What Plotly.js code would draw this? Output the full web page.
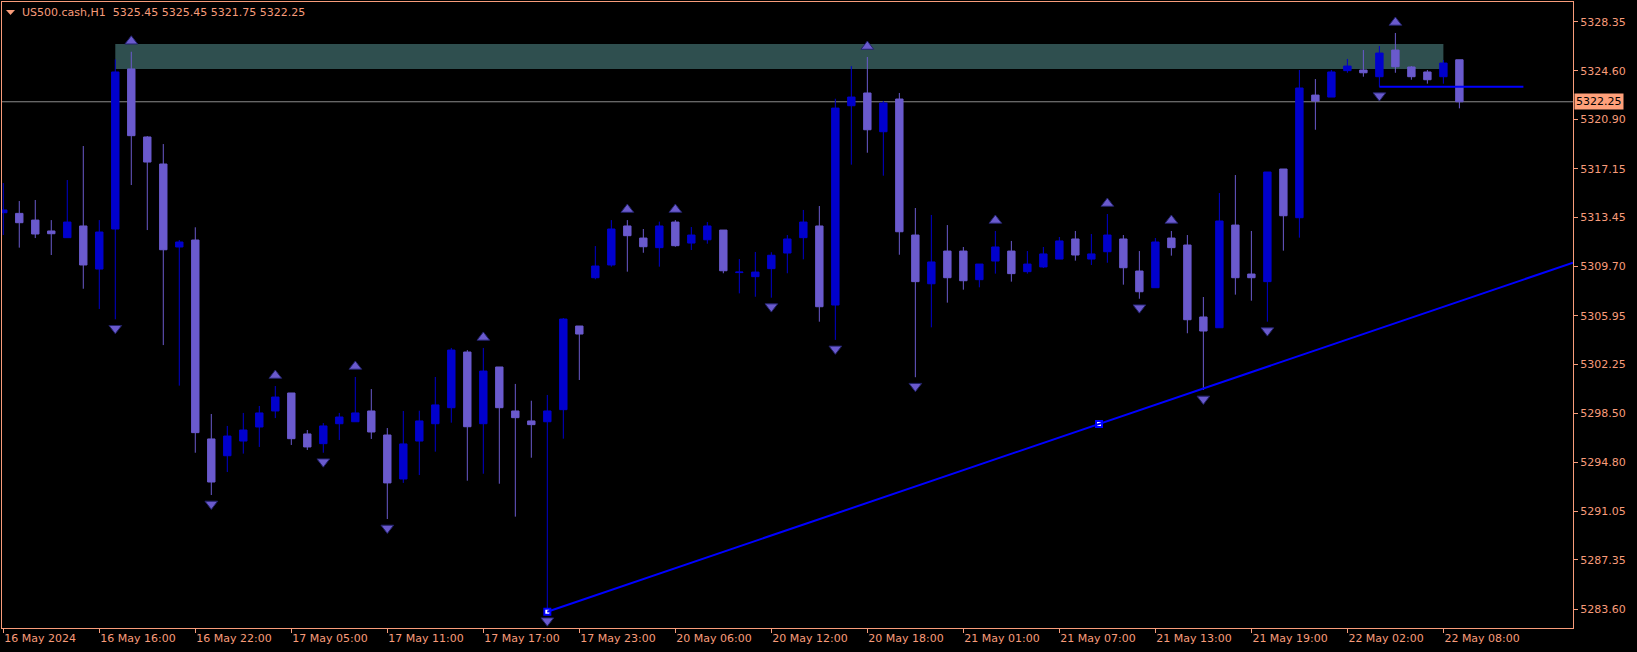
<!DOCTYPE html>
<html>
<head>
<meta charset="utf-8">
<script src="https://cdn.plot.ly/plotly-3.0.1.min.js"></script>
<style>
html,body{margin:0;padding:0;background:#000;}
#chart{width:1637px;height:652px;}
</style>
</head>
<body>
<div id="chart"></div>
<script>
// ---- data (US500.cash, H1) ----
const symbolTitle = 'US500.cash,H1\u00a0\u00a05325.45 5325.45 5321.75 5322.25';

const opens = [5313.80,5313.75,5313.24,5312.41,5311.90,5312.79,5309.51,5312.56,5324.75,5319.57,
5317.51,5311.19,5311.72,5296.57,5295.29,5296.41,5297.48,5298.70,5300.07,5296.95,
5296.21,5297.73,5297.88,5298.70,5296.87,5293.52,5296.41,5297.73,5298.95,5303.19,
5297.73,5302.05,5298.70,5297.94,5297.88,5298.80,5305.17,5308.85,5309.82,5312.79,
5311.87,5311.14,5313.09,5311.49,5311.74,5312.48,5309.24,5308.93,5309.54,5310.73,
5311.90,5312.79,5306.77,5321.95,5322.92,5319.97,5322.46,5312.10,5308.39,5310.88,
5310.88,5308.70,5310.12,5310.88,5309.31,5309.67,5310.27,5311.80,5310.27,5310.83,
5311.80,5309.36,5308.09,5311.87,5311.34,5305.86,5305.04,5312.86,5309.13,5308.55,
5317.13,5313.42,5322.76,5322.61,5324.62,5324.67,5324.16,5326.19,5324.90,5324.52,
5324.16,5325.45];

const highs = [5316.06,5314.69,5314.77,5313.24,5316.29,5318.88,5313.24,5325.48,5326.06,5319.64,
5319.03,5311.72,5312.69,5298.47,5297.56,5298.55,5299.08,5300.60,5300.07,5297.25,
5297.78,5298.55,5301.29,5300.37,5297.40,5298.70,5298.72,5301.29,5303.50,5303.34,
5303.50,5302.05,5300.76,5299.48,5299.92,5305.78,5305.17,5311.26,5313.24,5313.24,
5312.56,5313.12,5313.24,5312.71,5313.09,5312.48,5310.27,5310.81,5310.79,5312.10,
5314.01,5314.31,5322.48,5324.97,5325.66,5322.31,5322.92,5314.16,5313.63,5312.86,
5311.19,5309.89,5312.41,5311.65,5310.88,5311.19,5311.95,5312.41,5312.18,5313.70,
5312.10,5310.88,5311.87,5312.41,5312.10,5307.38,5315.30,5316.67,5312.41,5316.90,
5317.13,5324.67,5323.98,5324.67,5325.51,5326.19,5326.50,5327.49,5324.97,5324.67,
5325.43,5325.45];

const lows = [5312.10,5311.14,5311.87,5310.58,5311.90,5308.01,5306.47,5305.68,5315.91,5312.48,
5303.72,5300.63,5295.52,5292.30,5294.05,5295.45,5295.96,5298.16,5296.11,5295.73,
5295.52,5296.49,5297.88,5296.57,5290.47,5293.22,5293.82,5295.60,5297.81,5293.39,
5293.92,5293.16,5290.65,5295.14,5283.41,5296.59,5301.06,5308.73,5309.69,5309.31,
5310.75,5309.69,5311.21,5310.96,5311.44,5309.19,5307.66,5307.40,5307.33,5309.19,
5310.25,5305.50,5304.11,5317.46,5318.37,5316.62,5310.60,5301.27,5305.07,5306.95,
5307.94,5308.12,5309.16,5308.55,5309.16,5309.59,5310.27,5310.15,5309.82,5309.99,
5308.32,5307.25,5308.09,5310.53,5304.62,5300.30,5305.04,5307.56,5307.10,5305.50,
5310.91,5311.90,5320.12,5322.61,5324.46,5324.16,5323.40,5324.46,5323.93,5323.63,
5323.63,5321.75];

const closes = [5314.01,5313.04,5312.18,5312.20,5313.09,5309.82,5312.33,5324.52,5319.67,5317.66,
5310.98,5311.57,5297.05,5293.29,5296.79,5297.25,5298.55,5299.76,5296.59,5295.96,
5297.56,5298.24,5298.55,5297.10,5293.22,5296.19,5297.94,5299.16,5303.34,5297.50,
5301.74,5298.95,5298.19,5297.66,5298.70,5305.70,5304.56,5309.74,5312.56,5312.05,
5311.21,5312.79,5311.29,5312.10,5312.79,5309.38,5309.28,5309.28,5310.56,5311.80,
5313.09,5306.64,5321.77,5322.61,5320.12,5322.16,5312.35,5308.55,5310.05,5308.85,
5308.62,5309.89,5311.19,5309.16,5309.89,5310.66,5311.65,5310.58,5310.66,5312.10,
5309.61,5307.78,5311.57,5311.14,5305.65,5304.79,5313.17,5308.85,5308.85,5316.90,
5313.57,5323.30,5322.31,5324.52,5324.97,5324.46,5325.96,5324.92,5324.16,5323.93,
5325.20,5322.25];

// time axis labels (every 6th bar)
const timeTickBars = [0,6,12,18,24,30,36,42,48,54,60,66,72,78,84,90];
const timeTickLabels = ['16 May 2024','16 May 16:00','16 May 22:00','17 May 05:00','17 May 11:00',
'17 May 17:00','17 May 23:00','20 May 06:00','20 May 12:00','20 May 18:00','21 May 01:00',
'21 May 07:00','21 May 13:00','21 May 19:00','22 May 02:00','22 May 08:00'];

// price axis labels
const priceTicks = [5328.35,5324.60,5320.90,5317.15,5313.45,5309.70,5305.95,5302.25,5298.50,5294.80,5291.05,5287.35,5283.60];
const lastPrice = 5322.25;

// fractals (bar indices)
const fractalUpBars = [8,17,22,30,39,42,54,62,69,73,87];
const fractalDownBars = [7,13,20,24,34,48,52,57,71,75,79,86];

// supply zone rectangle
const zoneStartBar = 7, zoneEndBar = 90, zoneTop = 5326.65, zoneBottom = 5324.75;

// horizontal level line
const levelStartBar = 86, levelEndBar = 95, levelPrice = 5323.40;

// trend line anchors
const trendBars = [34, 68.48];
const trendPrices = [5283.41, 5297.71];

// ---- drawing ----
const xRange = [-0.08, 98.1];
const yRange = [5282.17, 5329.85];
const fg = '#F89C7A';
const font = 'DejaVu Sans, Verdana, sans-serif';

const barIdx = opens.map((_, i) => i);

const candle = {
  type: 'candlestick',
  x: barIdx, open: opens, high: highs, low: lows, close: closes,
  increasing: {line: {color: '#0000CD', width: 1}, fillcolor: '#0000CD'},
  decreasing: {line: {color: '#6A5ACD', width: 1}, fillcolor: '#6A5ACD'},
  whiskerwidth: 0,
  hoverinfo: 'skip',
  showlegend: false
};

const upOff = 0.8, dnOff = 0.68;
const fracUp = {
  type: 'scatter', mode: 'markers',
  x: fractalUpBars, y: fractalUpBars.map(i => highs[i] + upOff),
  marker: {symbol: 'triangle-up', size: 11, color: '#6A5ACD', line: {color: '#22226a', width: 1}},
  hoverinfo: 'skip', showlegend: false
};
const fracDn = {
  type: 'scatter', mode: 'markers',
  x: fractalDownBars, y: fractalDownBars.map(i => lows[i] - dnOff),
  marker: {symbol: 'triangle-down', size: 11, color: '#6A5ACD', line: {color: '#22226a', width: 1}},
  hoverinfo: 'skip', showlegend: false
};

const slope = (trendPrices[1] - trendPrices[0]) / (trendBars[1] - trendBars[0]);
const trendEndX = xRange[1];
const trendEndY = trendPrices[0] + slope * (trendEndX - trendBars[0]);

const trendPts = {
  type: 'scatter', mode: 'markers',
  x: trendBars, y: trendPrices,
  marker: {symbol: 'square', size: 6, color: '#ffffff', line: {color: '#0000FF', width: 2}},
  hoverinfo: 'skip', showlegend: false
};

const layout = {
  width: 1637, height: 652,
  margin: {l: 2, r: 64, t: 2, b: 24, pad: 0},
  paper_bgcolor: '#000000', plot_bgcolor: '#000000',
  showlegend: false,
  boxgap: 0.34,
  font: {family: font, size: 11, color: fg},
  title: {
    text: symbolTitle,
    font: {family: font, size: 11, color: fg},
    xref: 'container', x: 22/1637, xanchor: 'left',
    yref: 'container', y: 1 - 12/652, yanchor: 'middle', pad: {t: 0, b: 0, l: 0, r: 0}
  },
  xaxis: {
    range: xRange, fixedrange: true,
    rangeslider: {visible: false},
    showgrid: false, zeroline: false,
    showline: true, mirror: true, linecolor: fg, linewidth: 1,
    ticks: 'outside', ticklen: 4, tickcolor: fg, tickwidth: 1,
    tickmode: 'array', tickvals: timeTickBars, ticktext: timeTickLabels,
    ticklabelposition: 'outside right',
    tickfont: {family: font, size: 11, color: fg}
  },
  yaxis: {
    range: yRange, fixedrange: true, side: 'right',
    showgrid: false, zeroline: false,
    showline: true, mirror: true, linecolor: fg, linewidth: 1,
    ticks: 'outside', ticklen: 4, tickcolor: fg, tickwidth: 1,
    tickmode: 'array', tickvals: priceTicks, ticktext: priceTicks.map(v => v.toFixed(2)),
    tickfont: {family: font, size: 11, color: fg}
  },
  shapes: [
    {type: 'rect', xref: 'x', yref: 'y', x0: zoneStartBar, x1: zoneEndBar, y0: zoneBottom, y1: zoneTop,
     fillcolor: '#2F4F4F', line: {width: 0}, layer: 'below'},
    {type: 'line', xref: 'paper', yref: 'y', x0: 0, x1: 1, y0: lastPrice, y1: lastPrice,
     line: {color: '#8c8c8c', width: 1}, layer: 'below'},
    {type: 'line', xref: 'x', yref: 'y', x0: levelStartBar, x1: levelEndBar, y0: levelPrice, y1: levelPrice,
     line: {color: '#0000FF', width: 2}, layer: 'above'},
    {type: 'line', xref: 'x', yref: 'y', x0: trendBars[0], y0: trendPrices[0], x1: trendEndX, y1: trendEndY,
     line: {color: '#0000FF', width: 2}, layer: 'above'},
    {type: 'path', xref: 'paper', yref: 'paper', xsizemode: 'pixel', ysizemode: 'pixel',
     xanchor: 0, yanchor: 1, path: 'M4,-8 L13,-8 L8.5,-13 Z',
     fillcolor: fg, line: {width: 0}}
  ],
  annotations: [
    {xref: 'paper', yref: 'y', x: 1, y: lastPrice, xanchor: 'left', yanchor: 'middle', xshift: 1,
     text: lastPrice.toFixed(2), showarrow: false, bgcolor: '#FFA07A', borderpad: 1,
     font: {family: font, size: 11, color: '#000000'}}
  ]
};

Plotly.newPlot('chart', [candle, fracUp, fracDn, trendPts], layout, {staticPlot: true, displayModeBar: false});
</script>
</body>
</html>
